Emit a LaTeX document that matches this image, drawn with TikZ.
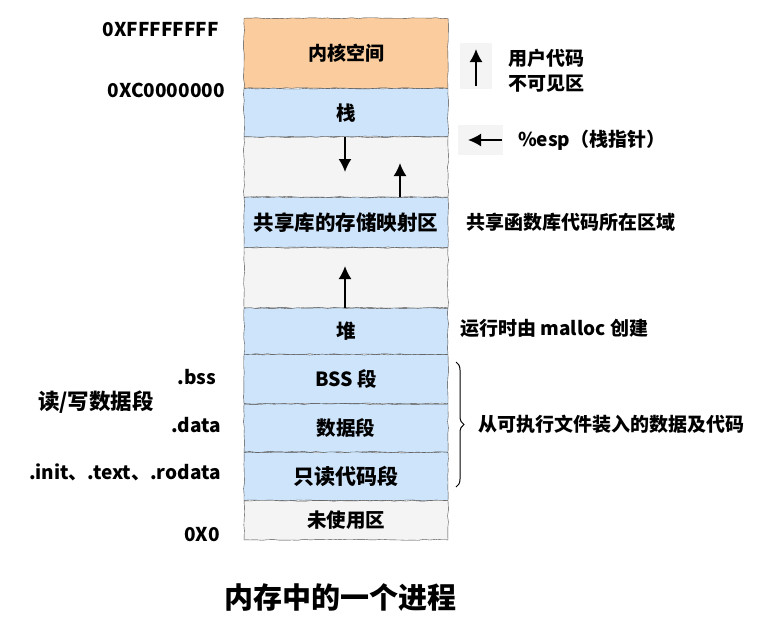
\documentclass[tikz,border=0pt]{standalone}
\usepackage{fontspec}
\setmainfont{Noto Sans CJK SC}
\usepackage{tikz}
\usepackage{xcolor}
\usetikzlibrary{positioning}
\usetikzlibrary{arrows.meta}
\usetikzlibrary{decorations.pathmorphing}
\usetikzlibrary{decorations.pathreplacing}
\definecolor{kernelorange}{RGB}{250,204,158}
\definecolor{segblue}{RGB}{206,228,250}
\definecolor{gapgray}{RGB}{244,244,244}
\definecolor{edgegray}{RGB}{70,70,70}

\tikzset{
  seg/.style={draw=edgegray, thin, minimum width=204pt, inner sep=0pt,
    font=\fontsize{19.5}{22}\selectfont\bfseries,
    decorate, decoration={random steps, segment length=6pt, amplitude=0.5pt}},
  lbl/.style={font=\fontsize{19}{25}\selectfont\bfseries, inner sep=0pt},
  addr/.style={font=\fontsize{19}{22}\selectfont\bfseries, inner sep=0pt, anchor=east},
  growarrow/.style={line width=1.8pt, -{Latex[length=13pt,width=13pt]}},
}

\begin{document}
\begin{tikzpicture}[x=1pt,y=-1pt]
\useasboundingbox (0,0) rectangle (759,630);
% memory column
\node[seg, fill=kernelorange, minimum height=70pt, anchor=north, font=\fontsize{19}{22}\selectfont\bfseries] (kernel) at (346,18) {内核空间};
\node[seg, fill=segblue, minimum height=48pt, below=0pt of kernel] (stack) {栈};
\node[seg, fill=gapgray, minimum height=60pt, below=0pt of stack] (gapA) {};
\node[seg, fill=segblue, minimum height=50pt, below=0pt of gapA, font=\fontsize{20.5}{22}\selectfont\bfseries] (shlib) {共享库的存储映射区};
\node[seg, fill=gapgray, minimum height=60pt, below=0pt of shlib] (gapB) {};
\node[seg, fill=segblue, minimum height=46pt, below=0pt of gapB] (heap) {堆};
\node[seg, fill=segblue, minimum height=49pt, below=0pt of heap] (bss) {BSS 段};
\node[seg, fill=segblue, minimum height=48pt, below=0pt of bss] (data) {数据段};
\node[seg, fill=segblue, minimum height=48pt, below=0pt of data, font=\fontsize{21}{22}\selectfont\bfseries] (rodata) {只读代码段};
\node[seg, fill=gapgray, minimum height=39pt, below=0pt of rodata] (unused) {未使用区};

% growth arrows
\coordinate (stackend) at (345,172);
\coordinate (shlibend) at (400,163);
\coordinate (heapend) at (345,266);
\draw[growarrow] (stack.south -| stackend) -- (stackend);
\draw[growarrow] (shlib.north -| shlibend) -- (shlibend);
\draw[growarrow] (heap.north -| heapend) -- (heapend);

% addresses
\node[addr] (top) at (219,30) {0XFFFFFFFF};
\node[addr] (kbase) at (225,90) {0XC0000000};
\node[addr] (zero) at (220,535) {0X0};

% section names
\node[addr] (bssname) at (216,377) {.bss};
\node[addr] (dataname) at (221,425) {.data};
\node[addr] (textname) at (221,472) {.init、.text、.rodata};
\node[lbl, anchor=west, font=\fontsize{21.5}{25}\selectfont\bfseries] (rw) at (38,402) {读/写数据段};

% right side notes
\node[fill=gapgray, minimum width=32pt, minimum height=46pt, inner sep=0pt] (upbox) at (476,66) {};
\coordinate (uptip) at (476,49);
\draw[growarrow] (476,86) -- (uptip);
\node[lbl, anchor=west, align=left] (hidden) at (508,71) {用户代码\\不可见区};
\node[fill=gapgray, minimum width=45pt, minimum height=30pt, inner sep=0pt] (espbox) at (480,140) {};
\coordinate (esptip) at (468,140);
\draw[growarrow] (502,140) -- (esptip);
\node[lbl, anchor=west] (esp) at (518,140) {\%esp（栈指针）};
\node[lbl, anchor=west] (shnote) at (466,222) {共享函数库代码所在区域};
\node[lbl, anchor=west] (heapnote) at (460,328) {运行时由 malloc 创建};
\coordinate (bracetop) at (456,362);
\coordinate (bracebot) at (456,487);
\draw[line width=1pt, decorate, decoration={brace, amplitude=8pt}] (bracetop) -- (bracebot);
\node[lbl, anchor=west] (loadnote) at (478,424) {从可执行文件装入的数据及代码};

% caption
\node[font=\fontsize{29}{32}\selectfont\bfseries, inner sep=0pt] (title) at (340,598) {内存中的一个进程};
\end{tikzpicture}
\end{document}
